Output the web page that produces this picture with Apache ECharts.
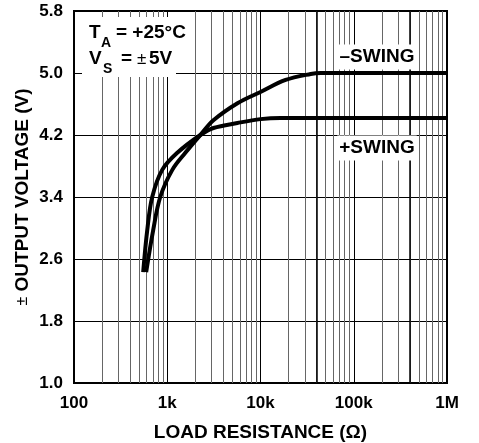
<!DOCTYPE html>
<html>
<head>
<meta charset="UTF-8">
<title>Output Voltage vs Load Resistance</title>
<script src="https://cdn.jsdelivr.net/npm/echarts@6/dist/echarts.min.js"></script>
<style>
  html, body { margin: 0; padding: 0; background: #fff; }
  #main { width: 479px; height: 443px; }
</style>
</head>
<body>
<div id="main"></div>
<script>
// load resistance (ohm) / output voltage (V)
var posSwing = [[552, 2.43], [610, 2.97], [690, 3.4], [883, 3.75], [1281, 3.97], [2265, 4.2],
  [3126, 4.29], [5663, 4.355], [10000, 4.405], [16400, 4.42], [1000000, 4.42]];
var negSwing = [[594, 2.43], [706, 2.97], [841, 3.4], [1133, 3.75], [1563, 3.97], [2265, 4.2],
  [3126, 4.39], [5663, 4.61], [10000, 4.755], [18580, 4.91], [34500, 4.987], [44200, 5.0], [1000000, 5.0]];

var xTicks = [100, 1000, 10000, 100000, 1000000];
var xTickLabels = ['100', '1k', '10k', '100k', '1M'];
var darkLines = [40000, 400000];

var FONT = '"Liberation Sans", Arial, sans-serif';

// minor grid (2..9 per decade)
var minorLines = [];
xTicks.slice(0, -1).forEach(function (d) {
  for (var k = 2; k <= 9; k++) minorLines.push({ xAxis: d * k });
});

var chart = echarts.init(document.getElementById('main'));
var option = {
  animation: false,
  grid: {
    left: 74, right: 32, top: 11, bottom: 60, containLabel: false, outerBoundsMode: 'none',
    show: true, borderColor: '#000', borderWidth: 2
  },
  xAxis: {
    type: 'log', logBase: 10, min: 100, max: 1000000,
    name: 'LOAD RESISTANCE (Ω)', nameLocation: 'middle', nameGap: 40, nameMoveOverlap: false,
    nameTextStyle: { fontFamily: FONT, fontWeight: 'bold', fontSize: 19, color: '#000' },
    axisLine: { lineStyle: { color: '#000', width: 2 } },
    axisTick: { show: false },
    axisLabel: {
      margin: 12, fontFamily: FONT, fontWeight: 'bold', fontSize: 17, color: '#000',
      formatter: function (v) {
        var i = xTicks.indexOf(Math.round(v));
        return i >= 0 ? xTickLabels[i] : '';
      }
    },
    splitLine: { show: true, lineStyle: { color: '#000', width: 1 } }
  },
  yAxis: {
    type: 'value', min: 1.0, max: 5.8, interval: 0.8,
    name: '{pm|±} OUTPUT VOLTAGE (V)', nameLocation: 'middle', nameGap: 42, nameRotate: 90,
    nameMoveOverlap: false,
    nameTextStyle: {
      fontFamily: FONT, fontWeight: 'bold', fontSize: 19, color: '#000',
      rich: { pm: { fontFamily: FONT, fontWeight: 'normal', fontSize: 16, color: '#000' } }
    },
    axisLine: { show: true, lineStyle: { color: '#000', width: 2 } },
    axisTick: { show: false },
    axisLabel: {
      margin: 11, fontFamily: FONT, fontWeight: 'bold', fontSize: 17, color: '#000',
      formatter: function (v) { return v.toFixed(1); }
    },
    splitLine: { show: true, lineStyle: { color: '#000', width: 1 } }
  },
  series: [
    {
      type: 'line', data: [], z: 1, silent: true,
      markLine: {
        silent: true, symbol: ['none', 'none'], label: { show: false },
        lineStyle: { color: '#666', width: 1, type: 'solid' },
        data: minorLines.concat(darkLines.map(function (r) {
          return { xAxis: r, lineStyle: { color: '#000', width: 1.5, type: 'solid' } };
        }))
      }
    },
    {
      name: '+SWING', type: 'line', data: posSwing, z: 5,
      showSymbol: false, smooth: 0.35,
      lineStyle: { color: '#000', width: 4 }
    },
    {
      name: '-SWING', type: 'line', data: negSwing, z: 5,
      showSymbol: false, smooth: 0.35,
      lineStyle: { color: '#000', width: 4 }
    }
  ],
  graphic: [
    { type: 'rect', z: 100, shape: { x: 82, y: 17, width: 94, height: 60 }, style: { fill: '#fff' } },
    { type: 'text', z: 101, x: 89, y: 33, style: { text: 'T', font: 'bold 19px ' + FONT, fill: '#000', verticalAlign: 'middle' } },
    { type: 'text', z: 101, x: 101, y: 43, style: { text: 'A', font: 'bold 14px ' + FONT, fill: '#000', verticalAlign: 'middle' } },
    { type: 'text', z: 101, x: 116, y: 33, style: { text: '= +25°C', font: 'bold 19px ' + FONT, fill: '#000', verticalAlign: 'middle' } },
    { type: 'text', z: 101, x: 89, y: 59, style: { text: 'V', font: 'bold 19px ' + FONT, fill: '#000', verticalAlign: 'middle' } },
    { type: 'text', z: 101, x: 103, y: 69, style: { text: 'S', font: 'bold 14px ' + FONT, fill: '#000', verticalAlign: 'middle' } },
    { type: 'text', z: 101, x: 121, y: 59, style: { text: '=', font: 'bold 19px ' + FONT, fill: '#000', verticalAlign: 'middle' } },
    { type: 'text', z: 101, x: 137, y: 59, style: { text: '±', font: '17px ' + FONT, fill: '#000', verticalAlign: 'middle' } },
    { type: 'text', z: 101, x: 149, y: 59, style: { text: '5V', font: 'bold 19px ' + FONT, fill: '#000', verticalAlign: 'middle' } },
    { type: 'text', z: 101, x: 377, y: 57, style: { text: '–SWING', font: 'bold 19px ' + FONT, fill: '#000', align: 'center', verticalAlign: 'middle', backgroundColor: '#fff', padding: [3, 2, 3, 2] } },
    { type: 'text', z: 101, x: 377, y: 148, style: { text: '+SWING', font: 'bold 19px ' + FONT, fill: '#000', align: 'center', verticalAlign: 'middle', backgroundColor: '#fff', padding: [3, 2, 3, 2] } }
  ]
};
chart.setOption(option);
</script>
</body>
</html>
